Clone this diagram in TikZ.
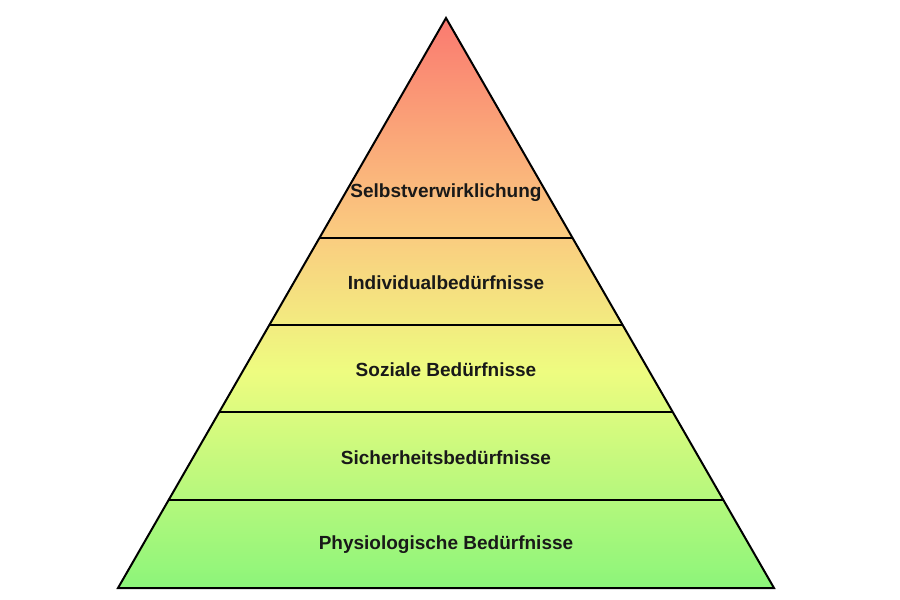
\documentclass[tikz,border=0pt]{standalone}
\usepackage{fontspec}
\setmainfont{Liberation Sans}
\usetikzlibrary{calc}
\definecolor{cTop}{RGB}{250,122,112}
\definecolor{cOr}{RGB}{250,205,128}
\definecolor{cYe}{RGB}{238,252,128}
\definecolor{cGr}{RGB}{140,245,122}
\pgfdeclareverticalshading{pyr}{100bp}{color(0bp)=(cGr); color(25bp)=(cGr); color(44bp)=(cYe); color(55.7bp)=(cOr); color(75bp)=(cTop); color(100bp)=(cTop)}
\tikzset{
  edge/.style={line width=2pt, black},
  lbl/.style={font=\fontsize{19}{21}\selectfont\bfseries, text=black!90, inner sep=0pt}
}
\begin{document}
\begin{tikzpicture}[x=1pt,y=-1pt]
\useasboundingbox (0,0) rectangle (900,600);
\fill[white] (0,0) rectangle (900,600);
\coordinate (apex) at (446,18);
\coordinate (bl) at (118,588);
\coordinate (br) at (774,588);
\shade[shading=pyr] (apex) -- (bl) -- (br) -- cycle;
\foreach \t/\n in {0.386/a, 0.5386/b, 0.6912/c, 0.8456/d}{
  \coordinate (L\n) at ($(apex)!\t!(bl)$);
  \coordinate (R\n) at ($(apex)!\t!(br)$);
  \draw[edge] (L\n) -- (R\n);
}
\draw[edge, line join=miter] (apex) -- (bl) -- (br) -- cycle;
\node[lbl] (s1) at (446,193) {Selbstverwirklichung};
\node[lbl] (s2) at (446,283) {Individualbedürfnisse};
\node[lbl] (s3) at (446,370) {Soziale Bedürfnisse};
\node[lbl] (s4) at (446,458) {Sicherheitsbedürfnisse};
\node[lbl] (s5) at (446,545) {Physiologische Bedürfnisse};
\end{tikzpicture}
\end{document}
